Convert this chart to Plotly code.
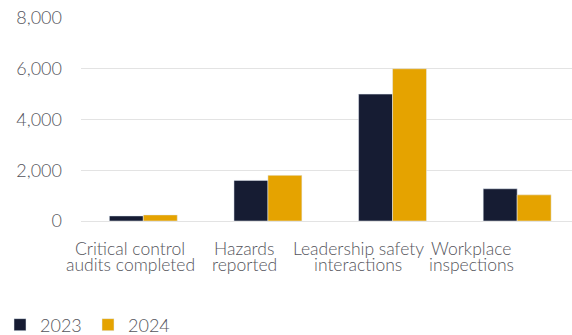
import plotly.graph_objects as go

categories = ["Critical control audits completed", "Hazards reported",
              "Leadership safety interactions", "Workplace inspections"]
label_lines = [["Critical control", "audits completed"], ["Hazards", "reported"],
               ["Leadership safety", "interactions"], ["Workplace", "inspections"]]
label_pos = [-0.104, 0.81, 1.724, 2.63]
values_2023 = [200, 1600, 5000, 1270]
values_2024 = [240, 1800, 6000, 1030]
y_ticks = [0, 2000, 4000, 6000, 8000]
y_ticktext = ["0", "2,000", "4,000", "6,000", "8,000"]

FONT = "Lato Light, Lato"
TXT = "#55555c"

fig = go.Figure()
fig.add_trace(go.Bar(x=categories, y=values_2023, name="2023", marker_color="#161c33"))
fig.add_trace(go.Bar(x=categories, y=values_2024, name="2024", marker_color="#e5a300"))

for lines, xp in zip(label_lines, label_pos):
    for i, ln in enumerate(lines):
        fig.add_annotation(x=xp, y=0, xref="x", yref="y", text=ln, showarrow=False,
                           xanchor="center", yanchor="top", yshift=-15 - 16 * i,
                           font=dict(family=FONT, size=17.5, color=TXT))

fig.update_layout(
    width=572, height=335,
    margin=dict(l=81, r=0, t=18, b=114),
    paper_bgcolor="white", plot_bgcolor="white",
    barmode="group", bargap=0.455, bargroupgap=0,
    font=dict(family=FONT, size=17, color=TXT),
    showlegend=True,
    legend=dict(orientation="h", xref="container", yref="container",
                x=0, y=0.03, xanchor="left", yanchor="middle",
                font=dict(family=FONT, size=18, color=TXT),
                entrywidth=43, entrywidthmode="pixels", itemclick=False),
    xaxis=dict(range=[-0.5, 3.44], showticklabels=False, showgrid=False,
               zeroline=False, showline=False, ticks=""),
    yaxis=dict(range=[0, 8000], tickvals=y_ticks, ticktext=y_ticktext,
               showgrid=True, gridcolor="#e3e3e3", gridwidth=1.3,
               zeroline=True, zerolinecolor="#e3e3e3", zerolinewidth=1.3,
               showline=False, ticks="", ticklabelstandoff=18,
               tickfont=dict(family=FONT, size=18, color=TXT)),
)

fig.write_html("out.html")
